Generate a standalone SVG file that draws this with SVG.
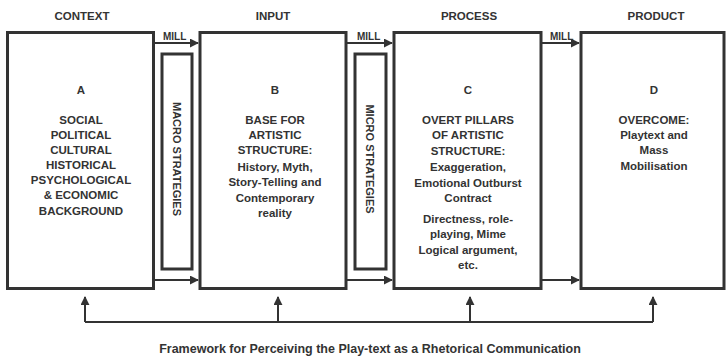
<svg xmlns="http://www.w3.org/2000/svg" width="727" height="359" viewBox="0 0 727 359">
<style>
text{font-family:"Liberation Sans",Arial,sans-serif;font-weight:bold;font-size:11.5px;fill:#333;text-anchor:middle}
.box{fill:#fff;stroke:#333;stroke-width:3}
.ln{fill:none;stroke:#333;stroke-width:2}
.lbl{font-size:10px;text-anchor:start}
.hd{font-size:11.5px}
.vt{font-size:11px}
.cap{font-size:12.5px}
</style>
<defs>
<marker id="ah" viewBox="0 0 10 10" refX="9" refY="5" markerWidth="4.5" markerHeight="4.5" orient="auto" markerUnits="strokeWidth">
<path d="M0,0 L10,5 L0,10 z" fill="#333"/>
</marker>
</defs>
<g id="headers">
<text class="hd" x="82" y="20">CONTEXT</text>
<text class="hd" x="273" y="20">INPUT</text>
<text class="hd" x="469" y="20">PROCESS</text>
<text class="hd" x="656" y="20">PRODUCT</text>
</g>
<g id="nodeA">
<rect class="box" x="7.5" y="32.5" width="146" height="256"/>
<text x="81" y="94">A</text>
<text x="81" y="124">SOCIAL</text>
<text x="81" y="139">POLITICAL</text>
<text x="81" y="154">CULTURAL</text>
<text x="81" y="169">HISTORICAL</text>
<text x="81" y="184">PSYCHOLOGICAL</text>
<text x="81" y="199">&amp; ECONOMIC</text>
<text x="81" y="215">BACKGROUND</text>
</g>
<g id="macro">
<rect class="box" x="162" y="54" width="30" height="215"/>
<text class="vt" transform="translate(173,159) rotate(90)">MACRO STRATEGIES</text>
</g>
<g id="nodeB">
<rect class="box" x="200" y="32.5" width="146" height="256"/>
<text x="275" y="94">B</text>
<text x="275" y="124">BASE FOR</text>
<text x="275" y="139">ARTISTIC</text>
<text x="275" y="154">STRUCTURE:</text>
<text x="275" y="171">History, Myth,</text>
<text x="275" y="186">Story-Telling and</text>
<text x="275" y="202">Contemporary</text>
<text x="275" y="217">reality</text>
</g>
<g id="micro">
<rect class="box" x="355" y="54" width="31" height="215"/>
<text class="vt" transform="translate(366,159) rotate(90)">MICRO STRATEGIES</text>
</g>
<g id="nodeC">
<rect class="box" x="394" y="32.5" width="147" height="256"/>
<text x="468" y="94">C</text>
<text x="468" y="124">OVERT PILLARS</text>
<text x="468" y="139">OF ARTISTIC</text>
<text x="468" y="155">STRUCTURE:</text>
<text x="468" y="171">Exaggeration,</text>
<text x="468" y="187">Emotional Outburst</text>
<text x="468" y="202">Contract</text>
<text x="468" y="223">Directness, role-</text>
<text x="468" y="238">playing, Mime</text>
<text x="468" y="254">Logical argument,</text>
<text x="468" y="269">etc.</text>
</g>
<g id="nodeD">
<rect class="box" x="581" y="32.5" width="143" height="256"/>
<text x="654" y="94">D</text>
<text x="654" y="124">OVERCOME:</text>
<text x="654" y="139">Playtext and</text>
<text x="654" y="154">Mass</text>
<text x="654" y="170">Mobilisation</text>
</g>
<g id="connectors">
<path class="ln" d="M154,43 H198" marker-end="url(#ah)"/>
<path class="ln" d="M347,43 H392" marker-end="url(#ah)"/>
<path class="ln" d="M542,43 H579" marker-end="url(#ah)"/>
<path class="ln" d="M154,280 H198" marker-end="url(#ah)"/>
<path class="ln" d="M347,280 H392" marker-end="url(#ah)"/>
<path class="ln" d="M542,280 H579" marker-end="url(#ah)"/>
<text class="lbl" x="163" y="40">MILL</text>
<text class="lbl" x="357" y="40">MILL</text>
<text class="lbl" x="550" y="40">MILL</text>
<path class="ln" d="M85,322 H653"/>
<path class="ln" d="M85,322 V297" marker-end="url(#ah)"/>
<path class="ln" d="M278,322 V297" marker-end="url(#ah)"/>
<path class="ln" d="M470,322 V297" marker-end="url(#ah)"/>
<path class="ln" d="M653,322 V297" marker-end="url(#ah)"/>
</g>
<text class="cap" x="370" y="353">Framework for Perceiving the Play-text as a Rhetorical Communication</text>
</svg>
